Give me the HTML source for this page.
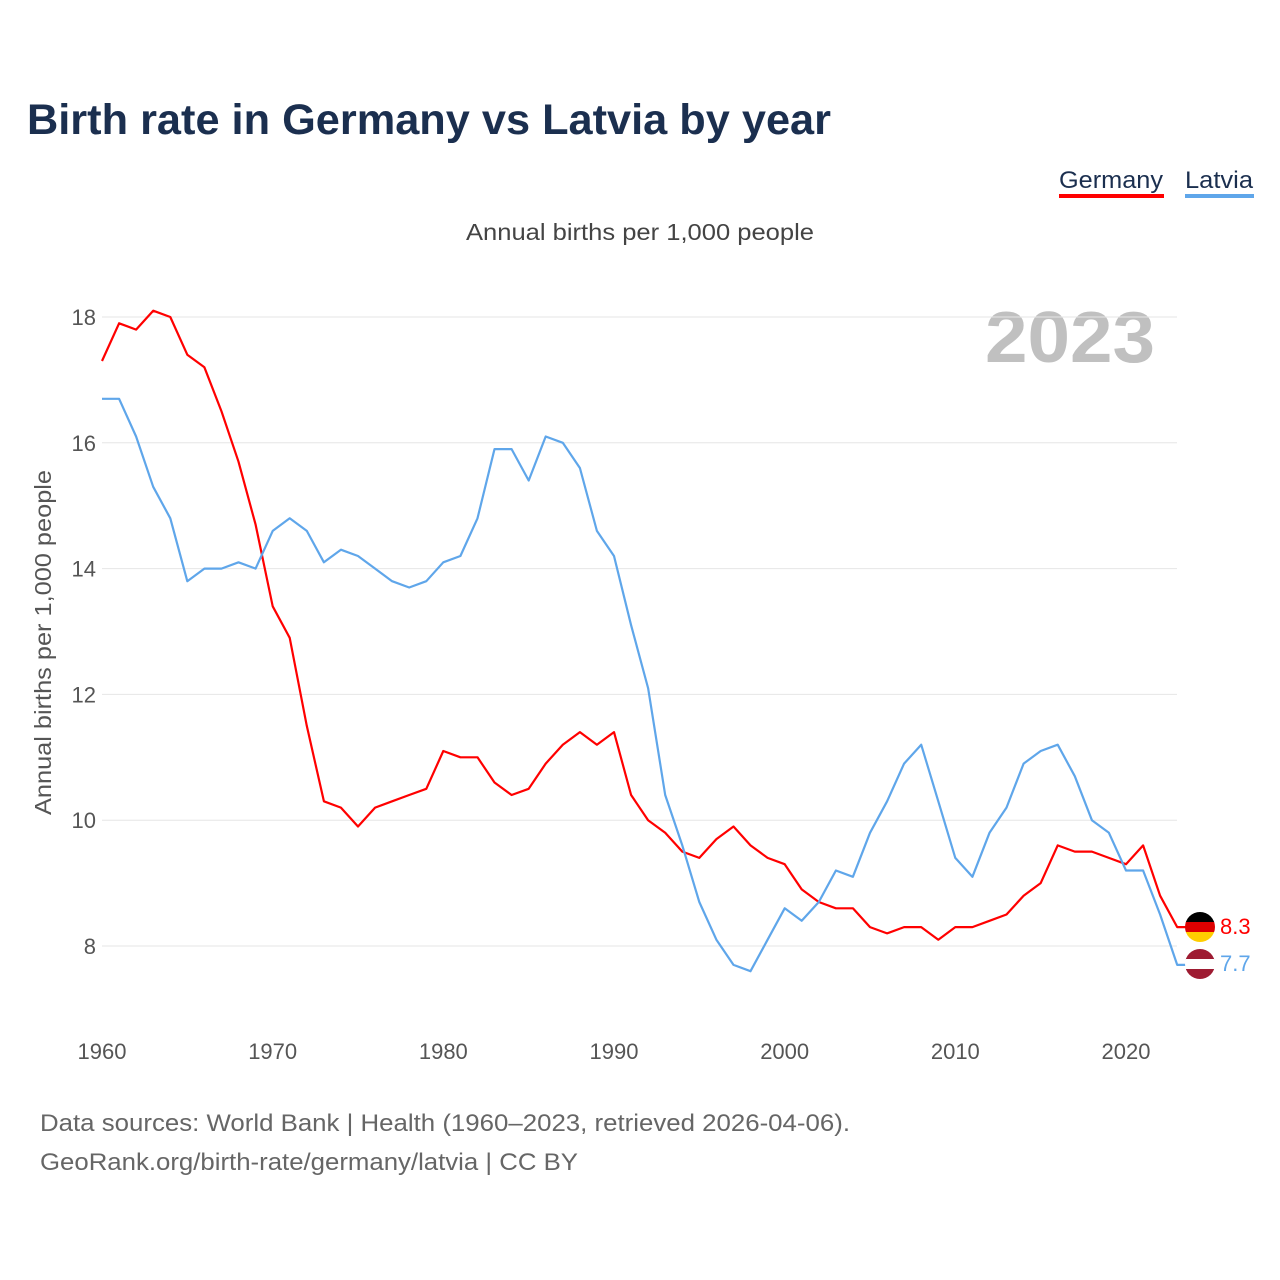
<!DOCTYPE html>
<html><head><meta charset="utf-8">
<style>
body{margin:0;background:#fff;font-family:"Liberation Sans",sans-serif;}
#wrap{position:relative;width:1280px;height:1280px;overflow:hidden;}
</style></head>
<body>
<div id="wrap">
<svg id="chart" width="1280" height="1280" xmlns="http://www.w3.org/2000/svg">
<text x="27" y="134" font-size="43" font-weight="bold" fill="#1b2f4f" textLength="804" lengthAdjust="spacingAndGlyphs">Birth rate in Germany vs Latvia by year</text>
<g>
<text x="1059" y="188" font-size="24" fill="#1b2f4f" textLength="104" lengthAdjust="spacingAndGlyphs">Germany</text>
<rect x="1059" y="194" width="105" height="4" fill="#ff0000"/>
<text x="1185" y="188" font-size="24" fill="#1b2f4f" textLength="68" lengthAdjust="spacingAndGlyphs">Latvia</text>
<rect x="1185" y="194" width="69" height="4" fill="#5fa6ea"/>
</g>
<text x="466" y="240" font-size="23" fill="#444" textLength="348" lengthAdjust="spacingAndGlyphs">Annual births per 1,000 people</text>
<text x="985" y="362" font-size="72" font-weight="bold" fill="#c0c0c0" textLength="170" lengthAdjust="spacingAndGlyphs">2023</text>
<text transform="translate(51,815) rotate(-90)" font-size="23" fill="#555" textLength="345" lengthAdjust="spacingAndGlyphs">Annual births per 1,000 people</text>
<g id="grid"></g><g id="lines"></g><g id="ends"></g>
<text x="40" y="1131" font-size="24" fill="#666" textLength="810" lengthAdjust="spacingAndGlyphs">Data sources: World Bank | Health (1960–2023, retrieved 2026-04-06).</text>
<text x="40" y="1170" font-size="24" fill="#666" textLength="538" lengthAdjust="spacingAndGlyphs">GeoRank.org/birth-rate/germany/latvia | CC BY</text>
</svg>
</div>
<script>
const years = Array.from({length:64},(_,i)=>1960+i);
const germany = [17.3,17.9,17.8,18.1,18.0,17.4,17.2,16.5,15.7,14.7,13.4,12.9,11.5,10.3,10.2,9.9,10.2,10.3,10.4,10.5,11.1,11.0,11.0,10.6,10.4,10.5,10.9,11.2,11.4,11.2,11.4,10.4,10.0,9.8,9.5,9.4,9.7,9.9,9.6,9.4,9.3,8.9,8.7,8.6,8.6,8.3,8.2,8.3,8.3,8.1,8.3,8.3,8.4,8.5,8.8,9.0,9.6,9.5,9.5,9.4,9.3,9.6,8.8,8.3];
const latvia = [16.7,16.7,16.1,15.3,14.8,13.8,14.0,14.0,14.1,14.0,14.6,14.8,14.6,14.1,14.3,14.2,14.0,13.8,13.7,13.8,14.1,14.2,14.8,15.9,15.9,15.4,16.1,16.0,15.6,14.6,14.2,13.1,12.1,10.4,9.6,8.7,8.1,7.7,7.6,8.1,8.6,8.4,8.7,9.2,9.1,9.8,10.3,10.9,11.2,10.3,9.4,9.1,9.8,10.2,10.9,11.1,11.2,10.7,10.0,9.8,9.2,9.2,8.5,7.7];
const yTicks = [8,10,12,14,16,18];
const xTicks = [1960,1970,1980,1990,2000,2010,2020];
const NS="http://www.w3.org/2000/svg";
const x = y => 102 + (y-1960)*(1024/60);
const yv = v => 946 - (v-8)*62.9;
function mk(tag,attrs,parent){const e=document.createElementNS(NS,tag);for(const k in attrs)e.setAttribute(k,attrs[k]);parent.appendChild(e);return e;}
const grid=document.getElementById('grid'), lines=document.getElementById('lines'), ends=document.getElementById('ends');
yTicks.forEach(t=>{
  const l=mk('line',{x1:102,x2:1177,y1:yv(t),y2:yv(t),stroke:'#e6e6e6','stroke-width':1},grid);
  
  
  const tx=mk('text',{x:96,y:yv(t)+8,'font-size':22,fill:'#555','text-anchor':'end'},grid);
  tx.textContent=t;
  
  
});
xTicks.forEach(t=>{
  const tx=mk('text',{x:x(t),y:1059,'font-size':22,fill:'#555','text-anchor':'middle'},grid);
  tx.textContent=t;
  
  
});
function series(vals,color,name){
  const pts=vals.map((v,i)=>x(years[i]).toFixed(1)+','+yv(v).toFixed(1));
  const last=vals[vals.length-1];
  pts.push('1188,'+yv(last).toFixed(1));
  const p=mk('polyline',{points:pts.join(' '),fill:'none',stroke:color,'stroke-width':2.2,'stroke-linejoin':'round'},lines);
  
  
}
series(germany,'#ff0000','germany');
series(latvia,'#5fa6ea','latvia');
function flag(cy,colors,name,val,color,ly){
  const g=mk('g',{},ends);
  
  
  const id='clip-'+name;
  const cp=mk('clipPath',{id:id},g);mk('circle',{cx:1200,cy:cy,r:15},cp);
  const h=30/colors.length;
  colors.forEach((c,i)=>mk('rect',{x:1185,y:cy-15+i*h,width:30,height:h+0.5,fill:c,'clip-path':'url(#'+id+')'},g));
  const t=mk('text',{x:1220,y:ly,'font-size':22,fill:color},g);
  t.textContent=val.toFixed(1);
  
  
}
flag(927,['#000','#dd0000','#ffce00'],'germany',germany[germany.length-1],'#ff0000',934);
flag(964,['#9e1b32','#fff','#9e1b32'],'latvia',latvia[latvia.length-1],'#5fa6ea',971);
</script>
</body></html>
